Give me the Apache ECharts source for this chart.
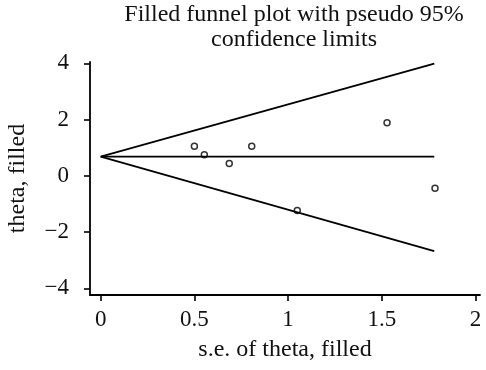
<!DOCTYPE html>
<html>
<head>
<meta charset="utf-8">
<script src="https://cdn.jsdelivr.net/npm/echarts@6/dist/echarts.min.js"></script>
<style>html,body{margin:0;padding:0;background:#fff}#c{width:486px;height:370px}</style>
</head>
<body>
<div id="c"></div>
<script>
const titleText = 'Filled funnel plot with pseudo 95%\nconfidence limits';
const xName = 's.e. of theta, filled';
const yName = 'theta, filled';
const xTicks = [0, 0.5, 1, 1.5, 2];
const yTicks = [-4, -2, 0, 2, 4];
const funnelUpper = [[0, 0.68], [1.78, 3.99]];
const funnelLower = [[0, 0.68], [1.78, -2.68]];
const funnelCenter = [[0, 0.68], [1.78, 0.68]];
const studySE = [0.50, 0.553, 0.686, 0.806, 1.049, 1.528, 1.784];
const studyTheta = [1.05, 0.75, 0.44, 1.05, -1.23, 1.89, -0.44];

const FONT = 'Liberation Serif';
const chart = echarts.init(document.getElementById('c'), null, {renderer: 'canvas'});
const fmt = v => String(v).replace('-', '\u2212');
const lineSeries = d => ({
  type: 'line', data: d, symbol: 'none', silent: true,
  lineStyle: {color: '#000', width: 1.8}
});
chart.setOption({
  animation: false,
  backgroundColor: '#fff',
  title: {
    text: titleText, left: 289, top: -3, textAlign: 'center',
    textStyle: {fontFamily: FONT, fontSize: 24, fontWeight: 'normal', color: '#111', lineHeight: 25}
  },
  grid: {left: 90, right: 6, top: 62, bottom: 75, containLabel: false, outerBoundsMode: 'none'},
  xAxis: {
    type: 'value', min: -0.057, max: 2.024,
    name: xName, nameLocation: 'middle', nameGap: 43,
    nameTextStyle: {fontFamily: FONT, fontSize: 24, color: '#111'},
    axisLine: {show: true, onZero: false, lineStyle: {color: '#000', width: 1.8}},
    axisTick: {show: true, length: 6, customValues: xTicks, lineStyle: {color: '#000', width: 1.6}},
    axisLabel: {customValues: xTicks, margin: 13, fontFamily: FONT, fontSize: 23, color: '#111', formatter: fmt},
    splitLine: {show: false}
  },
  yAxis: {
    type: 'value', min: -4.24, max: 4.05,
    name: yName, nameLocation: 'middle', nameGap: 60,
    nameTextStyle: {fontFamily: FONT, fontSize: 24, color: '#111'},
    axisLine: {show: true, onZero: false, lineStyle: {color: '#000', width: 1.8}},
    axisTick: {show: true, length: 6, customValues: yTicks, lineStyle: {color: '#000', width: 1.6}},
    axisLabel: {customValues: yTicks, margin: 21, fontFamily: FONT, fontSize: 23, color: '#111', formatter: fmt},
    splitLine: {show: false}
  },
  series: [
    lineSeries(funnelUpper),
    lineSeries(funnelLower),
    lineSeries(funnelCenter),
    {
      type: 'scatter', data: studySE.map((s, i) => [s, studyTheta[i]]),
      symbol: 'circle', symbolSize: 6,
      itemStyle: {color: '#fff', borderColor: '#000', borderWidth: 1.5}
    }
  ]
});
</script>
</body>
</html>
